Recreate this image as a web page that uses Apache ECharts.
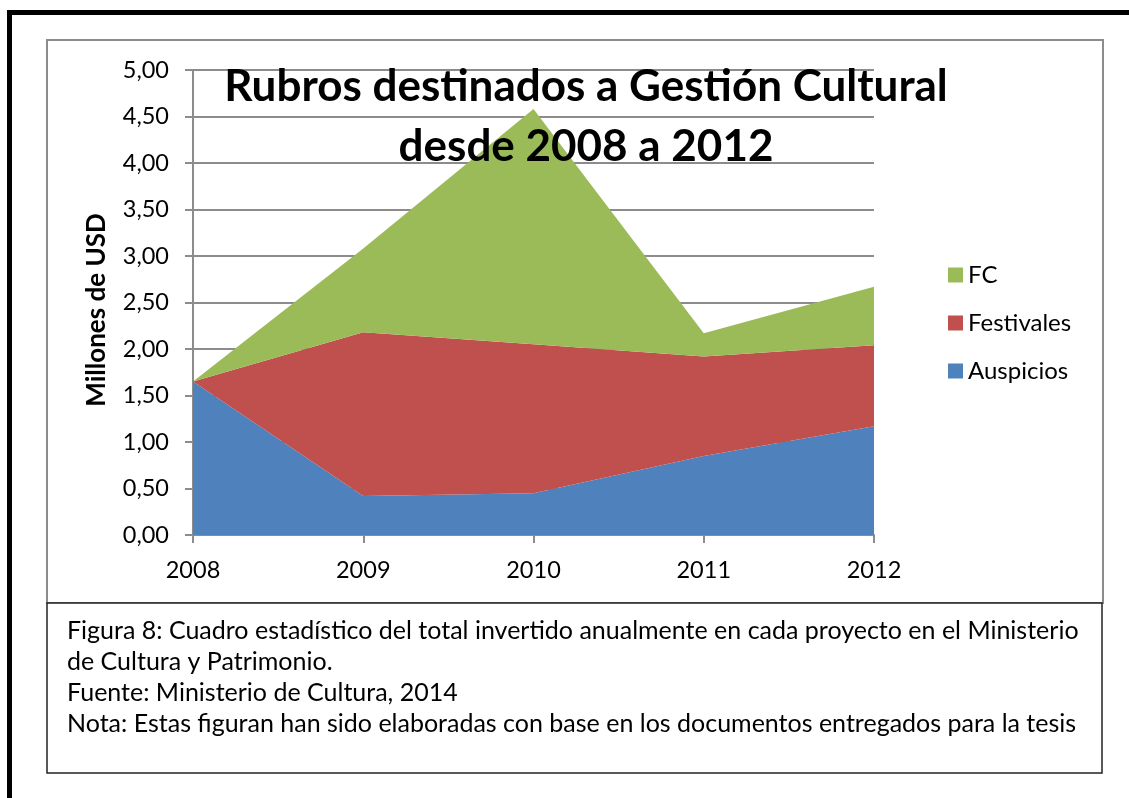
<!DOCTYPE html>
<html>
<head>
<meta charset="utf-8">
<script src="https://cdn.jsdelivr.net/npm/echarts@6/dist/echarts.min.js"></script>
<style>
html,body{margin:0;padding:0;background:#fff;}
#c{width:1129px;height:798px;}
</style>
</head>
<body>
<div id="c"></div>
<script>
const years = ['2008', '2009', '2010', '2011', '2012'];
const auspicios = [1.65, 0.42, 0.45, 0.85, 1.17];
const festivales = [0.00, 1.76, 1.60, 1.07, 0.87];
const fc = [0.00, 0.90, 2.53, 0.25, 0.63];
const yTickLabels = ['0,00','0,50','1,00','1,50','2,00','2,50','3,00','3,50','4,00','4,50','5,00'];
const yAxisName = 'Millones de USD';
const titleLines = ['Rubros destinados a Gestión Cultural', 'desde 2008 a 2012'];
const captionLines = [
  'Figura 8: Cuadro estadístico del total invertido anualmente en cada proyecto en el Ministerio',
  'de Cultura y Patrimonio.',
  'Fuente: Ministerio de Cultura, 2014',
  'Nota: Estas figuran han sido elaboradas con base en los documentos entregados para la tesis'
];

const FONT = 'Lato';
const chart = echarts.init(document.getElementById('c'), null, {renderer: 'canvas'});

const graphics = [
  {type: 'rect', z: -10, shape: {x: 9.5, y: 12.5, width: 1200, height: 900},
   style: {fill: 'none', stroke: '#000', lineWidth: 5}},
  {type: 'rect', z: -10, shape: {x: 47, y: 40, width: 1056, height: 563},
   style: {fill: '#fff', stroke: '#8c8c8c', lineWidth: 2}},
  {type: 'rect', z: -10, shape: {x: 47, y: 603, width: 1055, height: 170},
   style: {fill: '#fff', stroke: '#222', lineWidth: 1.5}},
  {type: 'text', z: 100, x: 97, y: 310, rotation: Math.PI / 2,
   style: {text: yAxisName, fill: '#000', font: 'bold 26px ' + FONT, textAlign: 'center', textVerticalAlign: 'middle'}}
];
titleLines.forEach((t, i) => graphics.push({
  type: 'text', z: 100, x: 586, y: 87 + i * 60,
  style: {text: t, fill: '#000', font: 'bold 44px ' + FONT, textAlign: 'center', textVerticalAlign: 'middle'}
}));
captionLines.forEach((t, i) => graphics.push({
  type: 'text', z: 100, x: 67, y: 631 + i * 31,
  style: {text: t, fill: '#000', font: '25px ' + FONT, textAlign: 'left', textVerticalAlign: 'middle'}
}));

const mk = (name, data, color) => ({
  name, type: 'line', stack: 'total', data, symbol: 'none',
  lineStyle: {width: 0}, areaStyle: {color: color, opacity: 1}, itemStyle: {color: color},
  emphasis: {disabled: true}
});

chart.setOption({
  animation: false,
  textStyle: {fontFamily: FONT},
  grid: {left: 193, right: 255, top: 70, bottom: 263, containLabel: false},
  legend: {
    orient: 'vertical', left: 943, top: 258, itemWidth: 15, itemHeight: 15, itemGap: 24,
    data: ['FC', 'Festivales', 'Auspicios'],
    textStyle: {fontSize: 24, color: '#000', fontFamily: FONT},
    icon: 'rect'
  },
  xAxis: {
    type: 'category', data: years, boundaryGap: false,
    axisLine: {lineStyle: {color: '#8c8c8c', width: 2}},
    axisTick: {show: true, length: 8, lineStyle: {color: '#8c8c8c', width: 2}},
    axisLabel: {fontSize: 23.5, color: '#000', margin: 23, fontFamily: FONT},
    splitLine: {show: false}
  },
  yAxis: {
    type: 'value', min: 0, max: 5, interval: 0.5,
    axisLine: {show: true, lineStyle: {color: '#8c8c8c', width: 2}},
    axisTick: {show: true, length: 8, lineStyle: {color: '#8c8c8c', width: 2}},
    axisLabel: {fontSize: 23.5, color: '#000', margin: 24, fontFamily: FONT,
      formatter: v => yTickLabels[Math.round(v / 0.5)]},
    splitLine: {show: true, lineStyle: {color: '#8c8c8c', width: 2}}
  },
  graphic: graphics,
  series: [
    mk('Auspicios', auspicios, '#4F81BD'),
    mk('Festivales', festivales, '#C0504D'),
    mk('FC', fc, '#9BBB59')
  ]
});
</script>
</body>
</html>
